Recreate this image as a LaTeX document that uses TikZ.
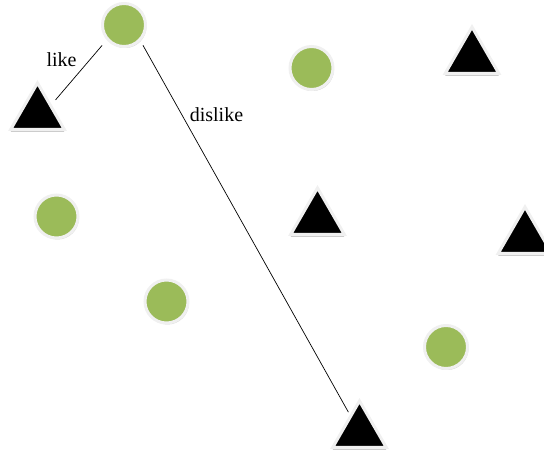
\documentclass[tikz,border=0pt]{standalone}
\usepackage{fontspec}
\setmainfont{Liberation Serif}
\usepackage{tikz}
\usetikzlibrary{shapes.geometric,shadows}

\definecolor{ballgreen}{HTML}{9BBB59}
\definecolor{rimgray}{HTML}{F0F0F0}

\begin{document}
\begin{tikzpicture}[
    x=1pt,y=-1pt,
    ball/.style={circle,fill=ballgreen,draw=rimgray,line width=3pt,
      inner sep=0pt,minimum size=43pt,
      drop shadow={shadow xshift=1pt,shadow yshift=-1.5pt,opacity=0.35}},
    tri/.style={regular polygon,regular polygon sides=3,fill=black,
      draw=rimgray,line width=3pt,line join=miter,inner sep=0pt,
      minimum size=62pt,
      drop shadow={shadow xshift=0pt,shadow yshift=-2.5pt,opacity=0.4}},
    link/.style={line width=0.7pt,black},
    lbl/.style={font=\fontsize{20}{24}\selectfont,inner sep=0pt}]

  \useasboundingbox (0,0) rectangle (544,454);

  % green balls
  \node[ball] (c1) at (124,25) {};
  \node[ball] (c2) at (311.5,68) {};
  \node[ball] (c3) at (56.5,216.5) {};
  \node[ball] (c4) at (166.5,301.5) {};
  \node[ball] (c5) at (446,347) {};

  % black triangles
  \node[tri] (t1) at (37.5,114) {};
  \node[tri] (t2) at (472,58) {};
  \node[tri] (t3) at (317.5,219) {};
  \node[tri] (t4) at (525,238) {};
  \node[tri] (t5) at (359.5,432) {};

  \draw[link,shorten <=7pt,shorten >=6pt] (c1.221) -- (t1.34);
  \draw[link,shorten <=5pt,shorten >=3pt] (c1.-44) -- (t5);

  \node[lbl] (like) at (61.5,60) {like};
  \node[lbl] (dislike) at (216.5,115) {dislike};
\end{tikzpicture}
\end{document}
